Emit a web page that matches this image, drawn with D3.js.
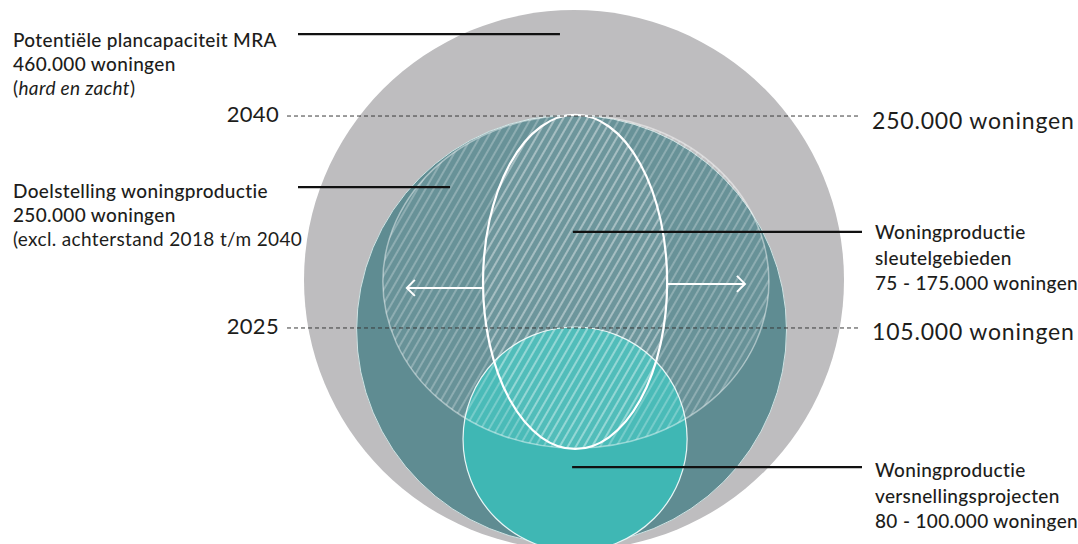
<!DOCTYPE html>
<html>
<head>
<meta charset="utf-8">
<script src="https://cdn.jsdelivr.net/npm/d3@7"></script>
<style>
  body { margin: 0; background: #fff; }
  svg { display: block; font-family: Lato, "Noto Sans", sans-serif; }
</style>
</head>
<body>
<svg id="chart" width="1078" height="544"></svg>
<script>
// shapes of the diagram (units: radius of the big circle = 1)
var shapeNames = ["plancapaciteit", "doelstelling", "versnelling", "sleutel", "sleutelKern"]
var shapeValues = [460000, 250000, 100000, 175000, 75000]
var shapeCx = [0, -0.009, 0.004, 0.007, 0.004]
var shapeCy = [0, -0.185, -0.589, -0.006, -0.007]
var shapeRx = [1, 0.796, 0.415, 0.715, 0.341]
var shapeRy = [1, 0.796, 0.415, 0.617, 0.619]

// year reference lines
var years = ["2040", "2025"]
var yearTotals = ["250.000 woningen", "105.000 woningen"]
var yearShape = [1, 2] // line sits on the top of this shape

// callout labels
var leftLabels = [
	["Potentiële plancapaciteit MRA", "460.000 woningen", "(hard en zacht)"],
	["Doelstelling woningproductie", "250.000 woningen", "(excl. achterstand 2018 t/m 2040"]
]
var rightLabels = [
	["Woningproductie", "sleutelgebieden", "75 - 175.000 woningen"],
	["Woningproductie", "versnellingsprojecten", "80 - 100.000 woningen"]
]
// where the leader lines end, in diagram units
var leftAnchor = [{x:-0.052, y:0.911}, {x:-0.459, y:0.344}]
var rightAnchor = [{x:-0.004, y:0.178}, {x:-0.007, y:-0.693}]

var svg = d3.select("#chart")

var x_scale = d3.scaleLinear().domain([-1, 1]).range([304, 844])
var y_scale = d3.scaleLinear().domain([1, -1]).range([10, 550])
var r_scale = d3.scaleLinear().domain([0, 1]).range([0, 270])

var shapes = shapeNames.map(function(n, i) {
	return {name:n, value:shapeValues[i], cx:shapeCx[i], cy:shapeCy[i], rx:shapeRx[i], ry:shapeRy[i]}
})

var defs = svg.append("defs")
function makeHatch(id, alpha, w) {
	var p = defs.append("pattern")
		.attr("id", id)
		.attr("patternUnits", "userSpaceOnUse")
		.attr("width", 7)
		.attr("height", 7)
		.attr("patternTransform", "rotate(30)")
	p.append("line")
		.attr("x1", 1).attr("y1", 0).attr("x2", 1).attr("y2", 7)
		.attr("stroke", "rgba(255,255,255," + alpha + ")")
		.attr("stroke-width", w)
}
makeHatch("hatch", 0.42, 1.2)
makeHatch("hatch2", 0.3, 1.2)

function ell(sel, d) {
	return sel.append("ellipse")
		.attr("cx", x_scale(d.cx))
		.attr("cy", y_scale(d.cy))
		.attr("rx", r_scale(d.rx))
		.attr("ry", r_scale(d.ry))
}

// big grey circle
ell(svg, shapes[0]).attr("fill", "#bebdbf")
// teal target circle
ell(svg, shapes[1]).attr("fill", "#5f8c92").attr("stroke", "#cfe3e3").attr("stroke-width", 1)
// versnellingsprojecten
ell(svg, shapes[2]).attr("fill", "#3fb7b4").attr("stroke", "#e8f6f6").attr("stroke-width", 1.2)
// sleutelgebieden, hatched
ell(svg, shapes[3]).attr("fill", "rgba(255,255,255,0.06)")
ell(svg, shapes[3]).attr("fill", "url(#hatch)")
	.attr("stroke", "rgba(255,255,255,0.45)").attr("stroke-width", 1.5)
ell(svg, shapes[4]).attr("fill", "rgba(255,255,255,0.04)")
ell(svg, shapes[4]).attr("fill", "url(#hatch2)")
	.attr("stroke", "#fff").attr("stroke-width", 2.2)

// arrows out of the inner ellipse
var inner = shapes[4]
var outer = shapes[3]
var arrowY = [y_scale(inner.cy) + 6, y_scale(inner.cy) + 2]
;[-1, 1].forEach(function(dir, i) {
	var x0 = x_scale(inner.cx) + dir * r_scale(inner.rx)
	var x1 = x_scale(outer.cx) + dir * (r_scale(outer.rx) - 24)
	var y = arrowY[i]
	svg.append("path")
		.attr("d", "M" + x0 + "," + y + "H" + x1 +
			"M" + (x1 - dir * 8) + "," + (y - 8) + "L" + x1 + "," + y + "L" + (x1 - dir * 8) + "," + (y + 8))
		.attr("fill", "none")
		.attr("stroke", "#fff")
		.attr("stroke-width", 2)
})

// dashed year lines
years.forEach(function(yr, i) {
	var s = shapes[yearShape[i]]
	var y = y_scale(s.cy) - r_scale(s.ry) + 1
	svg.append("line")
		.attr("x1", 287).attr("x2", 861)
		.attr("y1", y).attr("y2", y)
		.attr("stroke", "#3a3a3a")
		.attr("stroke-width", 1)
		.attr("stroke-dasharray", "4,3")
	svg.append("text")
		.attr("x", 279).attr("y", y + 6)
		.attr("text-anchor", "end")
		.attr("font-size", 22)
		.attr("letter-spacing", 0.3)
		.attr("fill", "#1d1d1b")
		.text(yr)
	svg.append("text")
		.attr("x", 872).attr("y", y + 12.5)
		.attr("font-size", 23)
		.attr("letter-spacing", 0.8)
		.attr("fill", "#1d1d1b")
		.text(yearTotals[i])
})

// leader lines + labels
var leftTop = [47, 198]
leftLabels.forEach(function(lines, i) {
	var a = leftAnchor[i]
	svg.append("line")
		.attr("x1", 298).attr("x2", x_scale(a.x))
		.attr("y1", y_scale(a.y)).attr("y2", y_scale(a.y))
		.attr("stroke", "#111").attr("stroke-width", 2.2)
	var t = svg.append("text")
		.attr("x", 13).attr("y", leftTop[i])
		.attr("font-size", 19)
		.attr("letter-spacing", 0.35)
		.attr("fill", "#1d1d1b")
	lines.forEach(function(l, j) {
		var ts = t.append("tspan")
			.attr("x", 13)
			.attr("dy", j == 0 ? 0 : 24)
			.attr("font-weight", j < 2 ? 500 : 400)
		if (l == "(hard en zacht)") {
			ts.text("(")
			t.append("tspan").attr("font-style", "italic").text("hard en zacht")
			t.append("tspan").text(")")
		} else {
			ts.text(l)
		}
	})
})

var rightTop = [239, 477]
rightLabels.forEach(function(lines, i) {
	var a = rightAnchor[i]
	svg.append("line")
		.attr("x1", x_scale(a.x)).attr("x2", 862)
		.attr("y1", y_scale(a.y)).attr("y2", y_scale(a.y))
		.attr("stroke", "#111").attr("stroke-width", 2.2)
	var t = svg.append("text")
		.attr("x", 875).attr("y", rightTop[i])
		.attr("font-size", 19)
		.attr("letter-spacing", 0.35)
		.attr("font-weight", 500)
		.attr("fill", "#1d1d1b")
	lines.forEach(function(l, j) {
		t.append("tspan").attr("x", 875).attr("dy", j == 0 ? 0 : 25.5).text(l)
	})
})
</script>
</body>
</html>
